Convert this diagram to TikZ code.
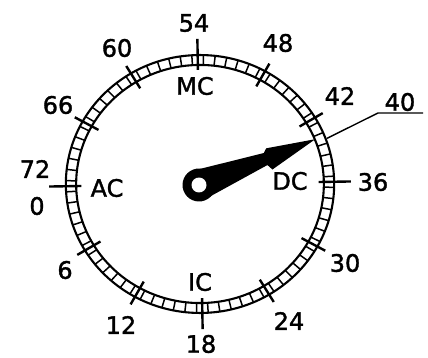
\documentclass[tikz,border=0pt]{standalone}
\usepackage{fontspec}
\setmainfont{DejaVu Sans}[FakeBold=1.5]
\begin{document}
\begin{tikzpicture}[x=1pt,y=-1pt,
  lbl/.style={font=\fontsize{24}{24}\selectfont, inner sep=0pt},
  ringline/.style={line width=2.1pt},
  rung/.style={line width=1.5pt},
  tickmark/.style={line width=2.4pt},
  leader/.style={line width=1.4pt}]
\useasboundingbox (0,0) rectangle (428,358);
% dial
\begin{scope}[shift={(200,184)}, x={(1.29pt,0pt)}, y={(0pt,1.24pt)}]
  \draw[ringline] (0,0) circle (104);
  \draw[ringline] (0,0) circle (96);
  \foreach \a in {0,5,...,355} \draw[rung] (\a+3.5:96) -- (\a+3.5:104);
  \foreach \v in {6,12,24,30,42,48,60,66} \draw[tickmark] ({181+5*\v}:90) -- ({181+5*\v}:111);
  \foreach \v in {0,18,36,54} \draw[tickmark] ({181+5*\v}:92) -- ({181+5*\v}:117);
  \coordinate (ringpt) at (20.5:105);
\end{scope}
% pointer
\begin{scope}[shift={(199,185)}, y=1pt, rotate=21.5]
  \fill (0,15.5) -- (72,6) -- (76,9.5) -- (125,0) -- (74,-12.5) -- (71,-6.5) -- (0,-15.5) -- cycle;
  \fill (0,0) circle (16.5);
  \fill[white] (0,0) circle (7.5);
\end{scope}
% labels
\node[lbl] (l54) at (194,23) {54};
\node[lbl] (lMC) at (195,86) {MC};
\node[lbl] (l60) at (117,48) {60};
\node[lbl] (l48) at (278,43) {48};
\node[lbl] (l66) at (58,105) {66};
\node[lbl] (l42) at (340,96) {42};
\node[lbl] (l40) at (400,102) {40};
\node[lbl] (l72) at (35,169) {72};
\node[lbl] (l0) at (37,206) {0};
\node[lbl] (lAC) at (107,188) {AC};
\node[lbl] (lDC) at (290,181) {DC};
\node[lbl] (l36) at (373,182) {36};
\node[lbl] (l6) at (65,270) {6};
\node[lbl] (l30) at (345,263) {30};
\node[lbl] (lIC) at (200,282) {IC};
\node[lbl] (l12) at (121,325) {12};
\node[lbl] (l24) at (289,321) {24};
\node[lbl] (l18) at (201,344) {18};
% leader to 40
\coordinate (kink) at (378,113);
\coordinate (ulend) at (423,113);
\draw[leader] (ringpt) -- (kink) -- (ulend);
\end{tikzpicture}
\end{document}
